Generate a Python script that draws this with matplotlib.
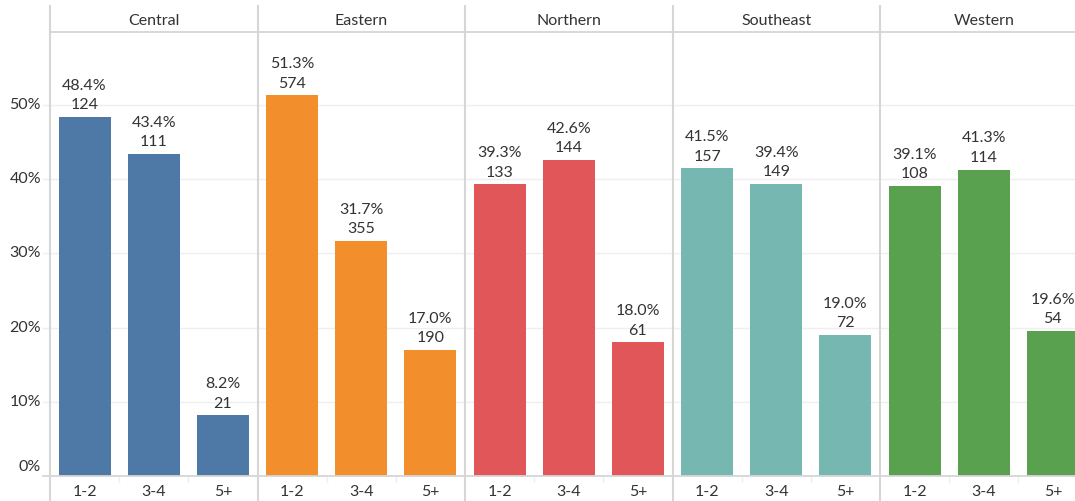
import matplotlib.pyplot as plt
from matplotlib.lines import Line2D

regions = ['Central', 'Eastern', 'Northern', 'Southeast', 'Western']
groups = ['1-2', '3-4', '5+']
pct = {
    'Central': [48.4, 43.4, 8.2],
    'Eastern': [51.3, 31.7, 17.0],
    'Northern': [39.3, 42.6, 18.0],
    'Southeast': [41.5, 39.4, 19.0],
    'Western': [39.1, 41.3, 19.6],
}
counts = {
    'Central': [124, 111, 21],
    'Eastern': [574, 355, 190],
    'Northern': [133, 144, 61],
    'Southeast': [157, 149, 72],
    'Western': [108, 114, 54],
}
colors = ['#4e79a7', '#f28e2b', '#e15759', '#76b7b2', '#59a14f']
yticks = [0, 10, 20, 30, 40, 50]

plt.rcParams['font.family'] = ['Lato', 'DejaVu Sans']
W, H = 1075, 502
fig = plt.figure(figsize=(W / 100, H / 100), dpi=100)

TXT = '#333333'
SEP = '#d6d6d6'
GRID = '#efefef'
FS = 11.5

# layout in pixels (from the top-left corner)
x0, pw = 50, 207.5
top, base = 33, 477
ymax = (base - top) / 7.42


def fx(px):
    return px / W


def fy(py):
    return 1 - py / H


for i, reg in enumerate(regions):
    left = x0 + pw * i
    ax = fig.add_axes([fx(left), fy(base), pw / W, (base - top) / H])
    ax.set_xlim(-0.5, 2.5)
    ax.set_ylim(0, ymax)
    for s in ax.spines.values():
        s.set_visible(False)
    for t in yticks[1:]:
        ax.axhline(t, color=GRID, lw=1, zorder=0)
    ax.bar(range(3), pct[reg], width=0.75, color=colors[i], zorder=2)
    for j, (p, c) in enumerate(zip(pct[reg], counts[reg])):
        ax.annotate(f'{p:.1f}%\n{c}', (j, p), xytext=(0, 4), textcoords='offset points',
                    ha='center', va='bottom', fontsize=FS, color=TXT, linespacing=1.5)
    ax.set_xticks(range(3))
    ax.set_xticklabels(groups, fontsize=FS, color=TXT)
    ax.tick_params(axis='x', length=0, pad=6)
    ax.set_yticks([])
    # header text
    fig.text(fx(left + pw / 2), fy(21), reg, ha='center', va='center', fontsize=FS, color=TXT)
    # small ticks between categories on the baseline
    for b in (0.5, 1.5):
        ax.plot([b, b], [0, -0.8], color=GRID, lw=1, clip_on=False)

# y axis labels and gridline stubs
for t in yticks:
    py = base - t * 7.42
    fig.text(fx(41), fy(py - 1 if t else py - 10), f'{t}%', ha='right', va='center', fontsize=FS, color=TXT)
    if t:
        fig.add_artist(Line2D([fx(43), fx(50)], [fy(py), fy(py)], color=GRID, lw=1))

# baseline, header divider and panel separators
fig.add_artist(Line2D([fx(43), 1], [fy(base), fy(base)], color=SEP, lw=1.3))
fig.add_artist(Line2D([fx(50), 1], [fy(top), fy(top)], color=SEP, lw=1.3))
for i in range(5):
    xx = fx(x0 + pw * i)
    fig.add_artist(Line2D([xx, xx], [fy(7), 0], color=SEP, lw=1.5))

fig.savefig('out.png', dpi=100)
